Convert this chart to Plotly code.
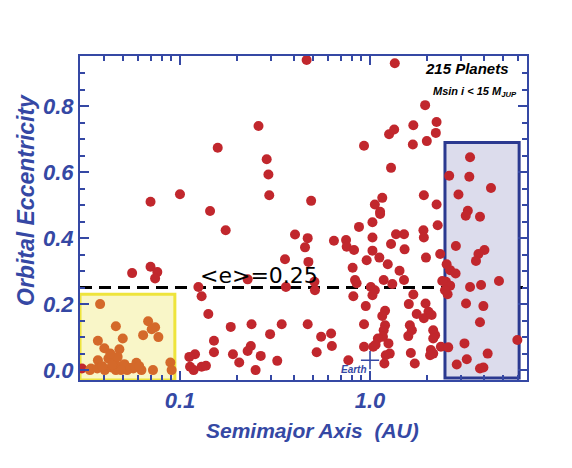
import plotly.graph_objects as go

# Hot Jupiters (inside the yellow box): semimajor axis (AU), eccentricity
a_hot = [0.038, 0.046, 0.068, 0.074, 0.071, 0.064, 0.077, 0.050, 0.037, 0.040,
         0.048, 0.037, 0.042, 0.045, 0.059, 0.047, 0.052, 0.034, 0.089,
         0.0336, 0.0367, 0.0402, 0.0436, 0.046, 0.0487, 0.0527, 0.0568, 0.0627, 0.0721, 0.0904,
         0.044, 0.051, 0.055, 0.049, 0.058, 0.039, 0.061, 0.047, 0.043]
e_hot = [0.20, 0.133, 0.148, 0.13, 0.124, 0.106, 0.10, 0.096, 0.089, 0.066,
         0.063, 0.03, 0.035, 0.025, 0.022, 0.01, 0.01, 0.005, 0.023,
         0.0, 0.005, 0.0, 0.008, 0.0, 0.012, 0.0, 0.005, 0.0, 0.0, 0.0,
         0.016, 0.018, 0.006, 0.0, 0.01, 0.012, 0.012, 0.04, 0.05]

# All other planets
a_red = [0.0305, 0.056, 0.070, 0.070, 0.076, 0.074,
         0.100, 0.295, 0.144, 0.174, 0.403, 0.47, 0.455, 0.357, 0.474, 0.227,
         0.125, 0.361, 0.130, 0.141, 0.185, 0.238, 0.343, 0.47, 0.298, 0.151,
         0.236, 0.227, 0.151, 0.120, 0.112, 0.190, 0.266, 0.205, 0.325, 0.113,
         0.118, 0.130, 0.137, 0.250, 0.464, 0.259, 0.158, 0.286, 0.292, 0.49,
         0.51, 0.513,
         1.35, 1.95, 2.24, 1.69, 1.26, 1.34, 2.22, 0.93, 1.68, 1.99,
         1.29, 1.92, 1.16, 1.06, 1.13, 1.13, 2.24, 1.03, 0.875, 2.27,
         0.646, 0.748, 0.754, 0.824, 1.03, 1.03, 1.37, 1.51, 1.29, 1.52,
         1.91, 1.92, 0.96, 1.12, 1.24, 0.81, 1.43, 1.97, 2.34, 0.834,
         0.85, 1.18, 1.31, 1.51, 1.01, 1.06, 1.03, 0.817, 1.69, 0.95,
         1.60, 1.96, 2.03, 1.92, 2.11, 1.76, 1.20, 1.16, 0.93, 1.20,
         1.18, 1.17, 1.10, 1.25, 1.62, 1.66, 1.59, 2.15, 2.20, 2.15,
         0.553, 0.624, 0.63, 0.524, 0.93, 1.04, 1.07, 1.27, 1.21, 1.64,
         2.09, 2.15, 2.07, 2.36, 0.769, 1.19, 1.72,
         3.36, 2.61, 3.33, 4.33, 2.92, 3.27, 3.19, 3.79, 2.83, 4.0,
         3.72, 3.61, 2.53, 2.64, 2.82, 2.51, 2.64, 3.36, 3.84, 4.77,
         2.56, 3.2, 3.95, 3.79, 5.96, 2.58, 3.14, 3.23, 2.86, 4.16,
         3.79, 3.95, 2.4, 2.48]
e_red = [0.005, 0.294, 0.51, 0.313, 0.297, 0.278,
         0.533, 0.53, 0.482, 0.424, 0.411, 0.40, 0.372, 0.336, 0.328, 0.275,
         0.252, 0.252, 0.224, 0.17, 0.131, 0.139, 0.139, 0.139, 0.109, 0.089,
         0.073, 0.058, 0.054, 0.048, 0.04, 0.048, 0.043, 0.023, 0.028, 0.01,
         0.0, 0.01, 0.013, 0.0, 0.94, 0.74, 0.674, 0.639, 0.593, 0.513,
         0.268, 0.242,
         0.93, 0.803, 0.752, 0.742, 0.715, 0.729, 0.719, 0.68, 0.684, 0.694,
         0.613, 0.53, 0.522, 0.502, 0.48, 0.473, 0.502, 0.448, 0.434, 0.439,
         0.392, 0.394, 0.374, 0.364, 0.402, 0.362, 0.412, 0.412, 0.382, 0.366,
         0.424, 0.402, 0.333, 0.341, 0.321, 0.31, 0.301, 0.341, 0.352, 0.273,
         0.263, 0.273, 0.261, 0.273, 0.252, 0.242, 0.227, 0.224, 0.229, 0.194,
         0.20, 0.202, 0.177, 0.157, 0.167, 0.17, 0.18, 0.164, 0.139, 0.136,
         0.121, 0.101, 0.096, 0.081, 0.136, 0.121, 0.103, 0.121, 0.106, 0.096,
         0.101, 0.111, 0.073, 0.054, 0.071, 0.071, 0.077, 0.05, 0.045, 0.052,
         0.061, 0.05, 0.045, 0.071, 0.03, 0.02, 0.02,
         0.645, 0.589, 0.586, 0.552, 0.532, 0.483, 0.468, 0.465, 0.376, 0.364,
         0.352, 0.331, 0.321, 0.303, 0.293, 0.268, 0.256, 0.252, 0.258, 0.27,
         0.23, 0.202, 0.194, 0.145, 0.091, 0.069, 0.081, 0.033, 0.017, 0.05,
         0.005, 0.008, 0.27, 0.242]

earth_a = [1.0]
earth_e = [0.03]
mean_e = 0.25

x_ticks = [0.1, 1.0]
x_ticktext = ["0.1", "1.0"]
x_minor = [0.04, 0.05, 0.06, 0.07, 0.08, 0.09, 0.2, 0.3, 0.4, 0.5, 0.6, 0.7, 0.8, 0.9,
           2, 3, 4, 5, 6]
y_ticks = [0.0, 0.2, 0.4, 0.6, 0.8]
y_ticktext = ["0.0", "0.2", "0.4", "0.6", "0.8"]
y_minor = [0.05, 0.1, 0.15, 0.25, 0.3, 0.35, 0.45, 0.5, 0.55, 0.65, 0.7, 0.75, 0.85, 0.9]

hot_box = dict(x0=0.0298, x1=0.094, y0=-0.03, y1=0.23)
cold_box = dict(x0=2.48, x1=6.09, y0=-0.024, y1=0.69)

BLUE = "#3548a4"
FAM = "Liberation Sans, Arial"

fig = go.Figure()

fig.add_shape(type="rect", xref="x", yref="y", layer="below",
              fillcolor="#f9f6c8", line=dict(color="#eee43c", width=3), **hot_box)
fig.add_shape(type="rect", xref="x", yref="y", layer="below",
              fillcolor="#dcdcec", line=dict(color="#2b3990", width=3), **cold_box)
fig.add_shape(type="line", xref="paper", yref="y", layer="below",
              x0=0, x1=0.991, y0=mean_e, y1=mean_e,
              line=dict(color="black", width=3, dash="12px,7px"))

fig.add_trace(go.Scatter(x=a_red, y=e_red, mode="markers",
                         marker=dict(color="#c1272d", size=10, line=dict(width=0)),
                         showlegend=False, cliponaxis=True))
fig.add_trace(go.Scatter(x=a_hot, y=e_hot, mode="markers",
                         marker=dict(color="#d4692a", size=10, line=dict(width=0)),
                         showlegend=False, cliponaxis=True))
fig.add_trace(go.Scatter(x=earth_a, y=earth_e, mode="markers",
                         marker=dict(symbol="cross-thin", size=13,
                                     line=dict(color=BLUE, width=1.6)),
                         showlegend=False))

fig.update_xaxes(type="log", range=[-1.526, 0.826],
                 tickvals=x_ticks, ticktext=x_ticktext,
                 ticks="inside", ticklen=9, tickwidth=2, tickcolor=BLUE,
                 minor=dict(tickvals=x_minor, ticks="inside", ticklen=5,
                            tickwidth=1.5, tickcolor=BLUE),
                 showline=True, linecolor=BLUE, linewidth=2, mirror="ticks",
                 showgrid=False, zeroline=False,
                 tickfont=dict(family=FAM, size=22, color=BLUE,
                               weight="bold", style="italic"))
fig.update_yaxes(range=[-0.03, 0.952],
                 tickvals=y_ticks, ticktext=y_ticktext,
                 ticks="inside", ticklen=9, tickwidth=2, tickcolor=BLUE,
                 minor=dict(tickvals=y_minor, ticks="inside", ticklen=5,
                            tickwidth=1.5, tickcolor=BLUE),
                 showline=True, linecolor=BLUE, linewidth=2, mirror="ticks",
                 showgrid=False, zeroline=False,
                 tickfont=dict(family=FAM, size=22, color=BLUE,
                               weight="bold", style="italic"))

annos = [
    dict(text="Semimajor Axis  (AU)", xref="paper", yref="paper",
         x=(312 - 80) / 447, y=-(430 - 380) / 324, xanchor="center", yanchor="middle",
         font=dict(family=FAM, size=21, color=BLUE, weight="bold", style="italic")),
    dict(text="Orbital Eccentricity", xref="paper", yref="paper",
         x=-(80 - 26) / 447, y=(380 - 200) / 324, xanchor="center", yanchor="middle",
         textangle=-90,
         font=dict(family=FAM, size=23, color=BLUE, weight="bold", style="italic")),
    dict(text="&lt;e&gt;=0.25", xref="x", yref="y", x=-0.905, y=mean_e,
         xanchor="left", yanchor="bottom", yshift=-2,
         font=dict(family="DejaVu Sans", size=22, color="black")),
    dict(text="215 Planets", xref="paper", yref="paper",
         x=(467 - 80) / 447, y=(380 - 69) / 324, xanchor="center", yanchor="middle",
         font=dict(family=FAM, size=15, color="black", weight="bold", style="italic")),
    dict(text="Msin i &lt; 15 M<sub>JUP</sub>", xref="paper", yref="paper",
         x=(519 - 80) / 447, y=(380 - 92) / 324, xanchor="right", yanchor="middle",
         font=dict(family=FAM, size=11, color="black", weight="bold", style="italic")),
    dict(text="Earth", xref="x", yref="y", x=0, y=0.003,
         xanchor="right", yanchor="middle", xshift=-1,
         font=dict(family=FAM, size=10, color=BLUE, weight="bold", style="italic")),
]
for a in annos:
    a["showarrow"] = False
fig.update_layout(annotations=annos)

# page body has an 8px margin, so the plot area is offset to land at x 80-527, y 56-380
fig.update_layout(width=572, height=468,
                  margin=dict(l=72, r=53, t=48, b=96),
                  plot_bgcolor="white", paper_bgcolor="white",
                  showlegend=False)

fig.write_html("out.html")
